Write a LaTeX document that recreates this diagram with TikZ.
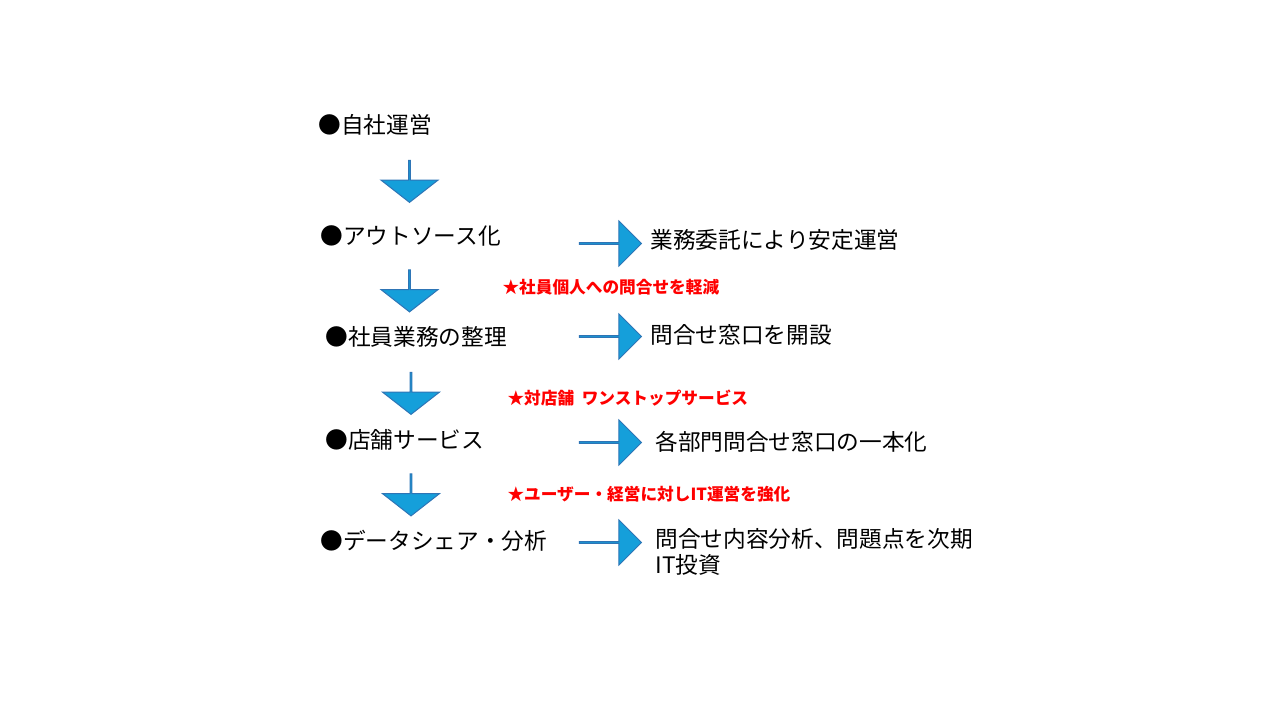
\documentclass[tikz,border=0pt]{standalone}
\usepackage{fontspec}
\setmainfont{Noto Sans CJK JP}
\usetikzlibrary{shapes.arrows}
\definecolor{arrfill}{RGB}{21,159,218}
\definecolor{arrline}{RGB}{46,117,182}
\tikzset{every picture/.style={line width=0.75pt}}
\tikzset{
  phase/.style={anchor=west, inner sep=0pt, font=\fontsize{17}{20}\selectfont},
  note/.style={anchor=west, inner sep=0pt, text=red, font=\fontsize{12.5}{15}\selectfont\bfseries},
  downarr/.style={single arrow, shape border rotate=270, draw=arrline, fill=arrfill, inner sep=0pt,
    minimum height=31.5pt, minimum width=42.75pt, single arrow head extend=10.5pt, single arrow tip angle=104},
  rightarr/.style={single arrow, draw=arrline, fill=arrfill, inner sep=0pt,
    minimum height=46.5pt, minimum width=33.75pt, single arrow head extend=8.25pt}
}

\begin{document}
\begin{tikzpicture}[x=0.75pt,y=0.75pt,yscale=-1,xscale=1]
	\useasboundingbox (0,0) rectangle (1280,720);

	% Steps
	\node[phase] (own) at (318,125) {●自社運営};
	\node[phase] (out) at (320,236) {●アウトソース化};
	\node[phase] (task) at (325,337) {●社員業務の整理};
	\node[phase] (shop) at (325,440) {●店舗サービス};
	\node[phase] (data) at (320,541) {●データシェア・分析};

	% Down arrows
	\node[downarr] (d1) at (409.5,181) {};
	\node[downarr] (d2) at (409.5,290.5) {};
	\node[downarr] (d3) at (411,393) {};
	\node[downarr] (d4) at (411,494.5) {};

	% Right arrows
	\node[rightarr] (r1) at (610,243.5) {};
	\node[rightarr] (r2) at (610,336.5) {};
	\node[rightarr] (r3) at (610,442.5) {};
	\node[rightarr] (r4) at (610,542.5) {};

	% Results
	\node[phase] (res1) at (650,240) {業務委託により安定運営};
	\node[phase] (res2) at (650,335) {問合せ窓口を開設};
	\node[phase] (res3) at (655,442) {各部門問合せ窓口の一本化};
	\node[phase, align=left] (res4) at (655,552) {問合せ内容分析、問題点を次期\\IT投資};

	% Notes
	\node[note] (n1) at (502,287) {★社員個人への問合せを軽減};
	\node[note] (n2) at (507,398) {★対店舗\ \ ワンストップサービス};
	\node[note] (n3) at (507,494) {★ユーザー・経営に対しIT運営を強化};

\end{tikzpicture}
\end{document}
